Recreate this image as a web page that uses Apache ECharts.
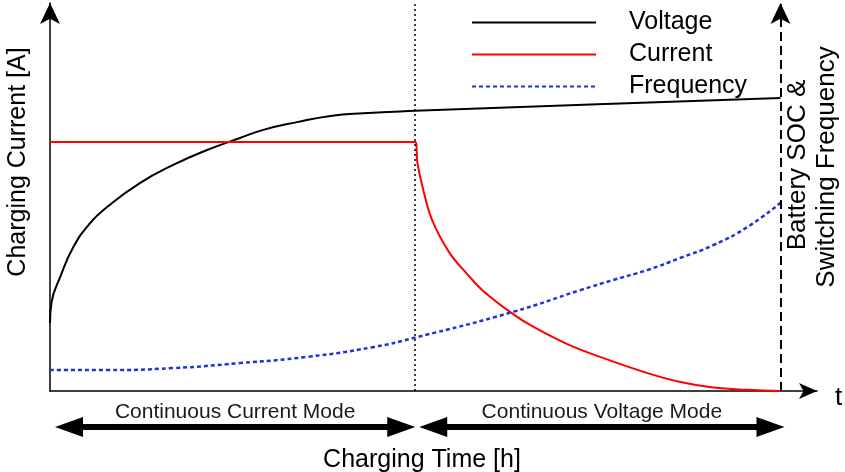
<!DOCTYPE html>
<html>
<head>
<meta charset="utf-8">
<script src="https://cdn.jsdelivr.net/npm/echarts@6/dist/echarts.min.js"></script>
<style>
  html, body { margin: 0; padding: 0; background: #fff; }
  #chart { width: 845px; height: 472px; }
</style>
</head>
<body>
<div id="chart"></div>
<script>
  // charging time (h) and values (arbitrary units)
  var seriesNames = ['Voltage', 'Current', 'Frequency'];

  var voltageT = [0, 0.02, 0.14, 0.32, 0.55, 0.78, 1.23, 1.68, 2.15, 2.60, 2.92, 3.38, 3.84, 4.29, 5.0, 7.5, 10];
  var voltageV = [17.5, 22.7, 29.4, 37.1, 43.3, 47.4, 53.6, 58.2, 62.1, 65.2, 67.3, 69.3, 70.9, 71.6, 72.2, 73.9, 75.5];

  var currentT = [0, 5, 5.03, 5.10, 5.23, 5.47, 5.71, 5.93, 6.34, 6.62, 7.08, 7.53, 8.18, 8.63, 9.08, 9.55, 10];
  var currentV = [64.2, 64.2, 58.8, 52.6, 44.1, 35.6, 30.2, 25.8, 19.8, 16.5, 12.1, 8.8, 4.6, 2.3, 0.9, 0.3, 0];

  var freqT = [0, 0.78, 1.68, 2.6, 3.52, 4.42, 5.03, 6.34, 7.26, 7.71, 8.18, 8.63, 9.08, 9.55, 10];
  var freqV = [5.4, 5.4, 5.9, 7.2, 8.8, 11.3, 13.9, 20.4, 26.0, 28.6, 31.2, 34.3, 37.6, 42.3, 48.5];

  var modeSwitchT = 5;   // CC -> CV
  var endT = 10;         // end of charge
  var modeLabels = ['Continuous Current Mode', 'Continuous Voltage Mode'];

  function pairs(xs, ys) {
    return xs.map(function (x, i) { return [x, ys[i]]; });
  }

  var FONT = '"Liberation Sans", Arial, sans-serif';

  var chart = echarts.init(document.getElementById('chart'));

  var option = {
    animation: false,
    backgroundColor: '#fff',
    grid: { left: 50, right: 28, top: 3, bottom: 81 },
    legend: {
      orient: 'vertical',
      left: 466,
      top: 5,
      itemWidth: 124,
      itemHeight: 14,
      itemGap: 7,
      data: seriesNames,
      itemStyle: { opacity: 0 },
      textStyle: {
        fontFamily: FONT,
        fontSize: 25,
        color: '#000',
        padding: [0, 0, 0, 28]
      }
    },
    xAxis: {
      type: 'value',
      min: 0,
      max: 10.5,
      axisLine: {
        lineStyle: { color: '#000', width: 1.5 },
        symbol: ['none', 'arrow'],
        symbolSize: [12, 18]
      },
      axisTick: { show: false },
      axisLabel: { show: false },
      splitLine: { show: false }
    },
    yAxis: {
      type: 'value',
      min: 0,
      max: 100,
      axisLine: {
        show: true,
        lineStyle: { color: '#000', width: 1.5 },
        symbol: ['none', 'arrow'],
        symbolSize: [15, 21]
      },
      axisTick: { show: false },
      axisLabel: { show: false },
      splitLine: { show: false }
    },
    series: [
      {
        name: 'Voltage',
        type: 'line',
        data: pairs(voltageT, voltageV),
        smooth: 0.5,
        showSymbol: false,
        symbol: 'none',
        lineStyle: { color: '#000', width: 2 },
        itemStyle: { color: '#000' }
      },
      {
        name: 'Current',
        type: 'line',
        data: pairs(currentT, currentV),
        smooth: 0.4,
        showSymbol: false,
        symbol: 'none',
        lineStyle: { color: '#ff0000', width: 2 },
        itemStyle: { color: '#ff0000' },
        // CC -> CV switch
        markLine: {
          silent: true,
          symbol: ['none', 'none'],
          label: { show: false },
          lineStyle: { color: '#000', width: 1.5, type: [2, 3] },
          data: [{ xAxis: modeSwitchT }]
        }
      },
      {
        name: 'Frequency',
        type: 'line',
        data: pairs(freqT, freqV),
        smooth: 0.5,
        showSymbol: false,
        symbol: 'none',
        lineStyle: { color: '#2030dd', width: 2.5, type: [4, 3] },
        itemStyle: { color: '#2030dd' },
        // right-hand axis (battery SOC & switching frequency)
        markLine: {
          silent: true,
          symbol: ['none', 'arrow'],
          symbolSize: [15, 21],
          label: { show: false },
          lineStyle: { color: '#000', width: 2, type: [9, 5] },
          data: [{ xAxis: endT }]
        }
      }
    ]
  };

  chart.setOption(option);

  // annotations below the axis, placed from the time scale
  var x0 = chart.convertToPixel({ xAxisIndex: 0 }, 0);
  var x5 = chart.convertToPixel({ xAxisIndex: 0 }, modeSwitchT);
  var x10 = chart.convertToPixel({ xAxisIndex: 0 }, endT);

  function doubleArrow(a, b, y) {
    var hl = 28, hh = 10, sh = 3;
    return {
      type: 'polygon',
      shape: {
        points: [
          [a, y], [a + hl, y - hh], [a + hl, y - sh], [b - hl, y - sh], [b - hl, y - hh],
          [b, y], [b - hl, y + hh], [b - hl, y + sh], [a + hl, y + sh], [a + hl, y + hh]
        ]
      },
      style: { fill: '#000' }
    };
  }

  var a1 = x0 + 5, b1 = x5, a2 = x5 + 4, b2 = x10 + 4;

  chart.setOption({
    graphic: [
      doubleArrow(a1, b1, 427),
      doubleArrow(a2, b2, 427),
      {
        type: 'text', x: (a1 + b1) / 2, y: 412,
        style: { text: modeLabels[0], font: '21px ' + FONT, fill: '#1a1a1a', align: 'center', verticalAlign: 'middle' }
      },
      {
        type: 'text', x: (a2 + b2) / 2, y: 412,
        style: { text: modeLabels[1], font: '21px ' + FONT, fill: '#1a1a1a', align: 'center', verticalAlign: 'middle' }
      },
      {
        type: 'text', x: 422, y: 460,
        style: { text: 'Charging Time [h]', font: '25px ' + FONT, fill: '#000', align: 'center', verticalAlign: 'middle' }
      },
      {
        type: 'text', x: 835, y: 398,
        style: { text: 't', font: '26px ' + FONT, fill: '#000', align: 'left', verticalAlign: 'middle' }
      },
      {
        type: 'text', x: 18, y: 162, rotation: Math.PI / 2,
        style: { text: 'Charging Current [A]', font: '25px ' + FONT, fill: '#000', align: 'center', verticalAlign: 'middle' }
      },
      {
        type: 'text', x: 798, y: 165, rotation: Math.PI / 2,
        style: { text: 'Battery SOC &', font: '26px ' + FONT, fill: '#000', align: 'center', verticalAlign: 'middle' }
      },
      {
        type: 'text', x: 827, y: 167, rotation: Math.PI / 2,
        style: { text: 'Switching Frequency', font: '26px ' + FONT, fill: '#000', align: 'center', verticalAlign: 'middle' }
      }
    ]
  });
</script>
</body>
</html>
